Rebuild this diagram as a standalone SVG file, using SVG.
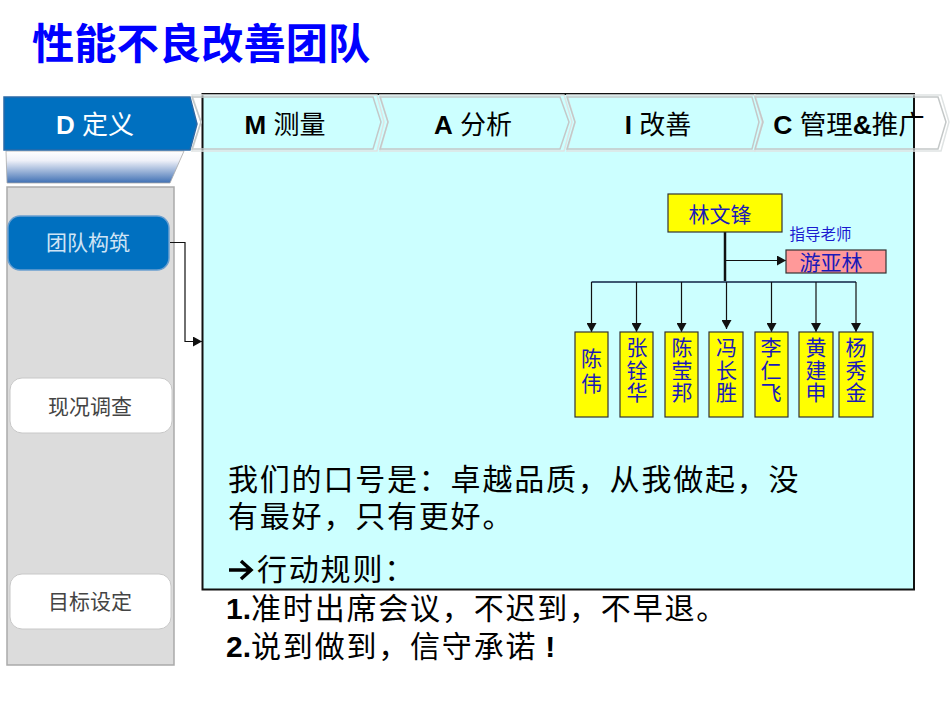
<svg xmlns="http://www.w3.org/2000/svg" width="950" height="713" viewBox="0 0 950 713">
<style>
text{font-family:"Liberation Sans","Noto Sans CJK SC",sans-serif}
.tab{fill:none;stroke:#c4c8c8;stroke-width:1.5}
.tab2{fill:none;stroke:#dfe3e3;stroke-width:1.5}
.tabt{font-size:26px;font-weight:400;text-anchor:middle;fill:#000}
.tabt tspan.b{font-weight:700}
.box{fill:#ffff00;stroke:#333;stroke-width:1.2}
.name{font-size:21px;fill:#1a1ab8;text-anchor:middle}
.side{font-size:21px;text-anchor:middle;fill:#444}
.body{font-size:30px;fill:#000;letter-spacing:1.8px}
.line{fill:none;stroke:#111;stroke-width:1.2}
.white{fill:#fff;stroke:#c8c8c8;stroke-width:1}
</style>
<defs>
<linearGradient id="fade" x1="0" y1="0" x2="0" y2="1"><stop offset="0" stop-color="#fff"/><stop offset="0.3" stop-color="#eef0f8"/><stop offset="1" stop-color="#3f70b4"/></linearGradient>
<marker id="ah" markerUnits="userSpaceOnUse" markerWidth="11" markerHeight="10" refX="9" refY="5" orient="auto"><path d="M0 0L9 5L0 10z" fill="#111"/></marker>
</defs>
<text x="32" y="59" font-size="42.300" font-weight="700" fill="#0000ff">性能不良改善团队</text>
<g id="panel"><rect x="202.500" y="94" width="711.500" height="495.500" fill="#ccffff" stroke="#111" stroke-width="2"/></g>
<g id="sidebar"><rect x="7" y="187" width="167" height="478" fill="#dcdcdc" stroke="#aaa" stroke-width="1.500"/>
<path d="M6 151H184L170 183H7z" fill="url(#fade)" stroke="#aaa" stroke-width="0.800"/></g>
<g id="tab-d"><path d="M4 97H190L197 124L190 150H4z" fill="#0070c0" stroke="#2a6aa8" stroke-width="1.500"/><text x="95" y="134" font-size="26" fill="#fff" text-anchor="middle"><tspan font-weight="700">D</tspan> 定义</text></g>
<g id="tab-m"><path class="tab2" d="M192 95H377L384 122L377 151H192L201 122z"/><path class="tab" d="M192 97H373L381 122L373 149H192L201 122z"/><text class="tabt" x="285" y="134"><tspan class="b">M</tspan> 测量</text></g>
<g id="tab-a"><path class="tab2" d="M380 95H564L572 122L564 151H380L388 122z"/><path class="tab" d="M380 97H560L569 122L560 149H380L388 122z"/><text class="tabt" x="473" y="134"><tspan class="b">A</tspan> 分析</text></g>
<g id="tab-i"><path class="tab2" d="M567 95H755L762 122L755 151H567L575 122z"/><path class="tab" d="M567 97H752L759 122L752 149H567L575 122z"/><text class="tabt" x="658" y="134"><tspan class="b">I</tspan> 改善</text></g>
<g id="tab-c"><path class="tab2" d="M755 95H941L949 122L941 151H755L763 122z"/><path class="tab" d="M755 97H938L946 122L938 149H755L763 122z"/><text class="tabt" x="849" y="134" style="font-size:26.500px"><tspan class="b">C</tspan> 管理<tspan class="b">&amp;</tspan>推广</text></g>
<g id="step-team"><rect x="8" y="216" width="161" height="54" rx="12" fill="#0070c0" stroke="#6a9fd0" stroke-width="1.500"/><text class="side" x="88" y="250" style="fill:#cfe4f5">团队构筑</text></g>
<g id="step-status"><rect class="white" x="10" y="378" width="162" height="55" rx="12"/><text class="side" x="90" y="413.500">现况调查</text></g>
<g id="step-goal"><rect class="white" x="10" y="574" width="161" height="55" rx="12"/><text class="side" x="90" y="609">目标设定</text></g>
<g id="connectors">
<path class="line" d="M170 242.500H185V341.500H202" marker-end="url(#ah)"/>
<path d="M725 231V281" fill="none" stroke="#111" stroke-width="2.500"/>
<path class="line" d="M725 260.500H786" marker-end="url(#ah)"/>
<path d="M591.500 282H856" fill="none" stroke="#124" stroke-width="1.500"/>
<path class="line" d="M591.500 282V332" marker-end="url(#ah)"/>
<path class="line" d="M636.500 282V332" marker-end="url(#ah)"/>
<path class="line" d="M681.500 282V332" marker-end="url(#ah)"/>
<path class="line" d="M726.500 282V329" marker-end="url(#ah)"/>
<path class="line" d="M771.500 282V332" marker-end="url(#ah)"/>
<path class="line" d="M816 282V332" marker-end="url(#ah)"/>
<path class="line" d="M856 282V332" marker-end="url(#ah)"/>
</g>
<g id="lead"><rect class="box" x="668" y="194" width="114" height="38"/><text class="name" x="720" y="222">林文锋</text></g>
<text x="789.500" y="240" font-size="15.500" fill="#1a1ad0">指导老师</text>
<g id="advisor"><rect x="786" y="250" width="100" height="23" fill="#ff9999" stroke="#333" stroke-width="1.200"/><text class="name" x="831" y="270">游亚林</text></g>
<g id="m1"><rect class="box" x="575" y="332" width="33" height="85"/><text class="name" x="591.500" y="366">陈<tspan x="591.500" dy="25">伟</tspan></text></g>
<g id="m2"><rect class="box" x="620" y="332" width="33" height="85"/><text class="name" x="637" y="355">张<tspan x="637" dy="22.500">铨</tspan><tspan x="637" dy="22.500">华</tspan></text></g>
<g id="m3"><rect class="box" x="665" y="332" width="33" height="85"/><text class="name" x="682" y="355">陈<tspan x="682" dy="22.500">莹</tspan><tspan x="682" dy="22.500">邦</tspan></text></g>
<g id="m4"><rect class="box" x="709" y="332" width="34" height="85"/><text class="name" x="726.500" y="355">冯<tspan x="726.500" dy="22.500">长</tspan><tspan x="726.500" dy="22.500">胜</tspan></text></g>
<g id="m5"><rect class="box" x="755" y="332" width="33" height="85"/><text class="name" x="771" y="355">李<tspan x="771" dy="22.500">仁</tspan><tspan x="771" dy="22.500">飞</tspan></text></g>
<g id="m6"><rect class="box" x="799" y="332" width="34" height="85"/><text class="name" x="816" y="355">黄<tspan x="816" dy="22.500">建</tspan><tspan x="816" dy="22.500">申</tspan></text></g>
<g id="m7"><rect class="box" x="839" y="332" width="34" height="85"/><text class="name" x="856" y="355">杨<tspan x="856" dy="22.500">秀</tspan><tspan x="856" dy="22.500">金</tspan></text></g>
<text class="body" x="228" y="490">我们的口号是：卓越品质，从我做起，没</text>
<text class="body" x="228" y="527">有最好，只有更好。</text>
<path d="M229 570H249M241 561L251 570L241 579" fill="none" stroke="#000" stroke-width="3.500"/>
<text class="body" x="257" y="580">行动规则：</text>
<text class="body" x="226" y="619"><tspan font-weight="700" letter-spacing="0">1.</tspan>准时出席会议，不迟到，不早退。</text>
<text class="body" x="226" y="657"><tspan font-weight="700" letter-spacing="0">2.</tspan>说到做到，信守承诺<tspan font-weight="700" dx="8">!</tspan></text>
</svg>
